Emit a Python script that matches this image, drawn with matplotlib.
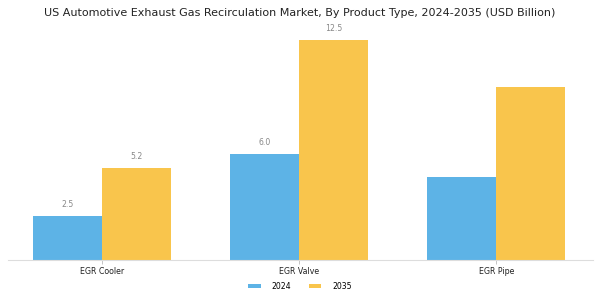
import matplotlib

matplotlib.use("Agg")

import matplotlib.pyplot as plt
import numpy as np

categories = ["EGR Cooler", "EGR Valve", "EGR Pipe"]
years = ["2024", "2035"]
values_2024 = [2.5, 6.0, 4.7]
values_2035 = [5.2, 12.5, 9.8]
labels_2024 = ["2.5", "6.0", None]
labels_2035 = ["5.2", "12.5", None]

colors = ["#5db3e6", "#f9c54c"]

fig = plt.figure(figsize=(6, 3), dpi=100)
ax = fig.add_axes([0.013, 0.133, 0.975, 0.77])

x = np.arange(len(categories))
width = 0.35
bars_a = ax.bar(x - width / 2, values_2024, width, color=colors[0], label=years[0])
bars_b = ax.bar(x + width / 2, values_2035, width, color=colors[1], label=years[1])

for bars, labels in ((bars_a, labels_2024), (bars_b, labels_2035)):
    for bar, text in zip(bars, labels):
        if text is None:
            continue
        ax.annotate(
            text,
            (bar.get_x() + bar.get_width() / 2, bar.get_height()),
            xytext=(0, 5),
            textcoords="offset points",
            ha="center",
            va="bottom",
            fontsize=5.6,
            color="#888888",
        )

ax.set_xlim(-0.48, 2.49)
ax.set_ylim(0, 13.1)
ax.set_xticks(x, categories, fontsize=5.7)
ax.set_yticks([])
ax.tick_params(axis="x", length=3, width=0.6, color="#bbbbbb", pad=2, labelcolor="#222222")
for side in ("top", "right", "left"):
    ax.spines[side].set_visible(False)
ax.spines["bottom"].set_color("#dddddd")
ax.spines["bottom"].set_linewidth(0.8)

fig.suptitle(
    "US Automotive Exhaust Gas Recirculation Market, By Product Type, 2024-2035 (USD Billion)",
    fontsize=8.0,
    y=0.975,
    color="#222222",
)
fig.legend(
    loc="center",
    bbox_to_anchor=(0.5, 0.045),
    ncol=2,
    frameon=False,
    fontsize=5.6,
    handlelength=1.6,
    handleheight=0.5,
    handletextpad=1.4,
    columnspacing=2.3,
)

fig.savefig("out.png", dpi=100)
